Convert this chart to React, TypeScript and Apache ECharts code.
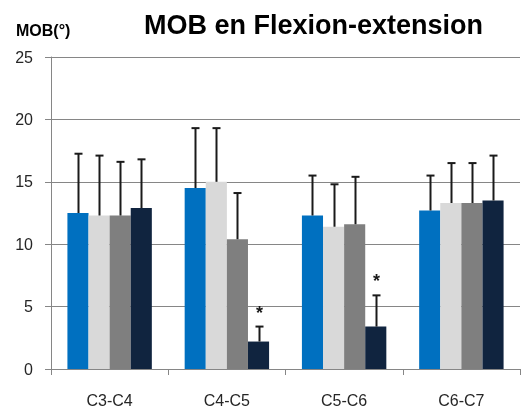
import React, { useEffect, useRef } from "react";
import * as echarts from "echarts";

const categories = ["C3-C4", "C4-C5", "C5-C6", "C6-C7"];
const yTicks = [0, 5, 10, 15, 20, 25];
const group1 = [12.5, 14.5, 12.3, 12.7];
const group2 = [12.3, 15.0, 11.4, 13.3];
const group3 = [12.3, 10.4, 11.6, 13.3];
const group4 = [12.9, 2.2, 3.4, 13.5];
const err1 = [4.75, 4.8, 3.2, 2.8];
const err2 = [4.8, 4.3, 3.4, 3.2];
const err3 = [4.3, 3.7, 3.8, 3.2];
const err4 = [3.9, 1.2, 2.5, 3.6];
const signif4 = [false, true, true, false];

const colors = ["#0070C0", "#D9D9D9", "#7F7F7F", "#10243F"];
const groups = [group1, group2, group3, group4];
const errs = [err1, err2, err3, err4];
const signifs = [null, null, null, signif4];

const GAP = 0.28;

export default function App() {
  const ref = useRef<HTMLDivElement>(null);
  useEffect(() => {
    if (!ref.current) return;
    const chart = echarts.init(ref.current, null, { renderer: "svg" });
    const barSeries: any[] = groups.map((g, i) => ({
      type: "bar",
      data: g,
      itemStyle: { color: colors[i] },
      barGap: "0%",
      barCategoryGap: GAP * 100 + "%",
      z: 2,
    }));
    const errSeries: any[] = groups.map((g, gi) => ({
      type: "custom",
      z: 5,
      data: g.map((v, ci) => [ci, v, v + errs[gi][ci], signifs[gi] && signifs[gi]![ci] ? 1 : 0]),
      renderItem: (params: any, api: any) => {
        const ci = api.value(0);
        const base = api.coord([ci, api.value(1)]);
        const top = api.coord([ci, api.value(2)]);
        const band = api.size([1, 0])[0];
        const bw = (band * (1 - GAP)) / 4;
        const x = Math.round(base[0] + (gi - 1.5) * bw) + 0.5;
        const children: any[] = [
          {
            type: "line",
            shape: { x1: x, y1: base[1], x2: x, y2: top[1] },
            style: { stroke: "#1a1a1a", lineWidth: 2 },
          },
          {
            type: "line",
            shape: { x1: x - 4, y1: top[1], x2: x + 4, y2: top[1] },
            style: { stroke: "#1a1a1a", lineWidth: 2 },
          },
        ];
        if (api.value(3) === 1) {
          children.push({
            type: "text",
            x: x,
            y: top[1] - 14,
            style: {
              text: "*",
              fontSize: 18,
              fontWeight: "bold",
              fontFamily: "Liberation Sans",
              fill: "#1a1a1a",
              align: "center",
              verticalAlign: "middle",
            },
          });
        }
        return { type: "group", children };
      },
    }));
    chart.setOption({
      animation: false,
      grid: { left: 51, right: 1, top: 57, bottom: 45 },
      title: [
        {
          text: "MOB en Flexion-extension",
          left: 139,
          top: 6,
          textStyle: {
            fontFamily: "Liberation Sans",
            fontWeight: "bold",
            fontSize: 27,
            color: "#000",
          },
        },
        {
          text: "MOB(°)",
          left: 11,
          top: 17,
          textStyle: {
            fontFamily: "Liberation Sans",
            fontWeight: "bold",
            fontSize: 16,
            color: "#000",
          },
        },
      ],
      xAxis: {
        type: "category",
        data: categories,
        axisLine: { lineStyle: { color: "#868686", width: 1 } },
        axisTick: { show: true, length: 6, lineStyle: { color: "#868686" } },
        axisLabel: {
          margin: 23,
          fontSize: 16,
          fontFamily: "Liberation Sans",
          color: "#262626",
        },
      },
      yAxis: {
        type: "value",
        min: yTicks[0],
        max: yTicks[yTicks.length - 1],
        interval: 5,
        axisLine: { show: true, lineStyle: { color: "#868686" } },
        axisTick: { show: true, length: 6, lineStyle: { color: "#868686" } },
        splitLine: { lineStyle: { color: "#868686", width: 1 } },
        axisLabel: {
          margin: 18,
          fontSize: 16,
          fontFamily: "Liberation Sans",
          color: "#262626",
        },
      },
      series: [...barSeries, ...errSeries],
    });
    return () => chart.dispose();
  }, []);
  return <div ref={ref} style={{ width: 521, height: 414, position: "fixed", left: 0, top: 0 }} />;
}
